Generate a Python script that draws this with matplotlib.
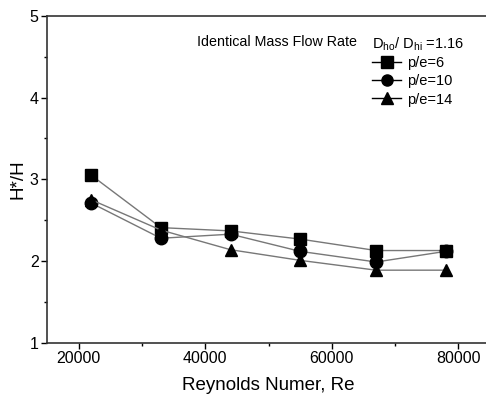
import numpy as np
import matplotlib
matplotlib.use("Agg")
import matplotlib.pyplot as plt

plt.rcParams['font.family'] = ['Liberation Sans', 'DejaVu Sans']
plt.rcParams['mathtext.fontset'] = 'custom'
plt.rcParams['mathtext.rm'] = 'Liberation Sans'

re = [22000, 33000, 44000, 55000, 67000, 78000]
h_pe6 = [3.05, 2.41, 2.37, 2.27, 2.13, 2.13]
h_pe10 = [2.71, 2.28, 2.33, 2.12, 1.99, 2.12]
h_pe14 = [2.75, 2.38, 2.14, 2.01, 1.89, 1.89]
labels = ['p/e=6', 'p/e=10', 'p/e=14']
markers = ['s', 'o', '^']

fig = plt.figure(figsize=(4.86, 3.98), dpi=100)
ax = fig.add_axes([47/486, 1-343/398, (490-47)/486, (343-15.7)/398])

for y, lab, m in zip([h_pe6, h_pe10, h_pe14], labels, markers):
	ax.plot(re, y, color='#777777', lw=1.0, marker=m, ms=9,
		mfc='black', mec='black', label=lab)

ax.set_xlim(15000, 85000)
ax.set_ylim(1, 5)
ax.set_xticks([20000, 40000, 60000, 80000])
ax.set_xticks([30000, 50000, 70000], minor=True)
ax.set_yticks([1, 2, 3, 4, 5])
ax.set_yticks([1.5, 2.5, 3.5, 4.5], minor=True)
ax.tick_params(direction='out', labelsize=11.5, width=1, length=4, pad=2)
ax.tick_params(which='minor', direction='out', width=1, length=2.5)
ax.spines['right'].set_visible(False)
for s in ['left', 'bottom', 'top']:
	ax.spines[s].set_linewidth(1.2)
	ax.spines[s].set_color('#333333')

ax.set_xlabel('Reynolds Numer, Re', fontsize=13.5, labelpad=8)
ax.set_ylabel('H*/H', fontsize=13.5, labelpad=2)

ax.text(197/486, 1-42/398, 'Identical Mass Flow Rate', transform=fig.transFigure,
	fontsize=10.3, va='center', ha='left')
leg = ax.legend(loc='upper left', bbox_to_anchor=(365/486, 1-28/398),
	bbox_transform=fig.transFigure, frameon=False, fontsize=10.5,
	title=r'D$_{\rm ho}$/ D$_{\rm hi}$ =1.16', title_fontsize=10.5,
	handlelength=2.0, handletextpad=0.4, labelspacing=0.3, borderpad=0,
	alignment='left')
leg._legend_box.sep = 2
for h in leg.legend_handles:
	h.set_color('black')
	h.set_markersize(8)

fig.savefig('out.png', dpi=100)
